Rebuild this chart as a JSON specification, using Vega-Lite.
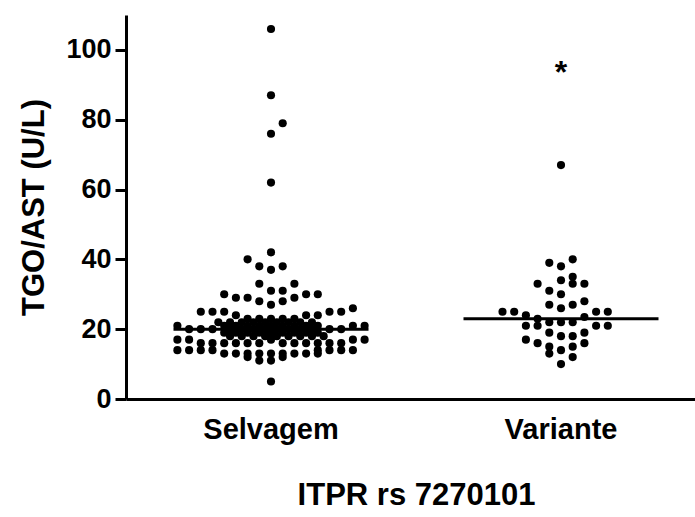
{
  "$schema": "https://vega.github.io/schema/vega-lite/v6.json",
  "width": 569,
  "height": 384,
  "autosize": {"type": "none"},
  "padding": {"left": 126, "top": 15, "right": 0, "bottom": 118},
  "background": "white",
  "config": {"view": {"stroke": null}, "font": "Liberation Sans"},
  "datasets": {
    "pts": [
      {"g":"Selvagem","v":106,"c":0},{"g":"Selvagem","v":87,"c":0},{"g":"Selvagem","v":79,"c":1},{"g":"Selvagem","v":76,"c":0},{"g":"Selvagem","v":62,"c":0},
      {"g":"Selvagem","v":42,"c":0},{"g":"Selvagem","v":40,"c":-2},{"g":"Selvagem","v":38,"c":-1},{"g":"Selvagem","v":38,"c":1},{"g":"Selvagem","v":37,"c":0},
      {"g":"Selvagem","v":33,"c":-1},{"g":"Selvagem","v":33,"c":2},{"g":"Selvagem","v":31,"c":0},{"g":"Selvagem","v":31,"c":1},
      {"g":"Selvagem","v":30,"c":-4},{"g":"Selvagem","v":30,"c":3},{"g":"Selvagem","v":30,"c":4},
      {"g":"Selvagem","v":29,"c":-3},{"g":"Selvagem","v":29,"c":-2},{"g":"Selvagem","v":29,"c":2},
      {"g":"Selvagem","v":28,"c":-1},{"g":"Selvagem","v":28,"c":1},{"g":"Selvagem","v":27,"c":0},{"g":"Selvagem","v":26,"c":7},
      {"g":"Selvagem","v":25,"c":-6},{"g":"Selvagem","v":25,"c":-5},{"g":"Selvagem","v":25,"c":-4},{"g":"Selvagem","v":25,"c":5},{"g":"Selvagem","v":25,"c":6},
      {"g":"Selvagem","v":24,"c":-3},{"g":"Selvagem","v":24,"c":3},{"g":"Selvagem","v":24,"c":4},
      {"g":"Selvagem","v":23,"c":-2},{"g":"Selvagem","v":23,"c":-1},{"g":"Selvagem","v":23,"c":0},{"g":"Selvagem","v":23,"c":1},{"g":"Selvagem","v":23,"c":2},
      {"g":"Selvagem","v":22,"c":-4.5},{"g":"Selvagem","v":22,"c":-3.5},{"g":"Selvagem","v":22,"c":-2.5},{"g":"Selvagem","v":22,"c":-1.5},{"g":"Selvagem","v":22,"c":-0.5},{"g":"Selvagem","v":22,"c":0.5},{"g":"Selvagem","v":22,"c":1.5},{"g":"Selvagem","v":22,"c":2.5},{"g":"Selvagem","v":22,"c":3.5},
      {"g":"Selvagem","v":21,"c":-8},{"g":"Selvagem","v":21,"c":-4},{"g":"Selvagem","v":21,"c":-3},{"g":"Selvagem","v":21,"c":-2},{"g":"Selvagem","v":21,"c":-1},{"g":"Selvagem","v":21,"c":0},{"g":"Selvagem","v":21,"c":1},{"g":"Selvagem","v":21,"c":2},{"g":"Selvagem","v":21,"c":3},{"g":"Selvagem","v":21,"c":4},{"g":"Selvagem","v":21,"c":7},{"g":"Selvagem","v":21,"c":8},
      {"g":"Selvagem","v":20,"c":-7},{"g":"Selvagem","v":20,"c":-6},{"g":"Selvagem","v":20,"c":-5},{"g":"Selvagem","v":20,"c":-3.5},{"g":"Selvagem","v":20,"c":-2.5},{"g":"Selvagem","v":20,"c":-1.5},{"g":"Selvagem","v":20,"c":-0.5},{"g":"Selvagem","v":20,"c":0.5},{"g":"Selvagem","v":20,"c":1.5},{"g":"Selvagem","v":20,"c":2.5},{"g":"Selvagem","v":20,"c":3.5},{"g":"Selvagem","v":20,"c":5},{"g":"Selvagem","v":20,"c":6},
      {"g":"Selvagem","v":19,"c":-4},{"g":"Selvagem","v":19,"c":-3},{"g":"Selvagem","v":19,"c":-2},{"g":"Selvagem","v":19,"c":-1},{"g":"Selvagem","v":19,"c":0},{"g":"Selvagem","v":19,"c":1},{"g":"Selvagem","v":19,"c":2},{"g":"Selvagem","v":19,"c":3},{"g":"Selvagem","v":19,"c":4},
      {"g":"Selvagem","v":18,"c":-3.5},{"g":"Selvagem","v":18,"c":-2.5},{"g":"Selvagem","v":18,"c":-1.5},{"g":"Selvagem","v":18,"c":-0.5},{"g":"Selvagem","v":18,"c":0.5},{"g":"Selvagem","v":18,"c":1.5},{"g":"Selvagem","v":18,"c":2.5},{"g":"Selvagem","v":18,"c":3.5},{"g":"Selvagem","v":18,"c":4.5},
      {"g":"Selvagem","v":17,"c":-8},{"g":"Selvagem","v":17,"c":-7},{"g":"Selvagem","v":17,"c":0},{"g":"Selvagem","v":17,"c":7},{"g":"Selvagem","v":17,"c":8},
      {"g":"Selvagem","v":16,"c":-6},{"g":"Selvagem","v":16,"c":-5},{"g":"Selvagem","v":16,"c":-4},{"g":"Selvagem","v":16,"c":-3},{"g":"Selvagem","v":16,"c":-2},{"g":"Selvagem","v":16,"c":-1},{"g":"Selvagem","v":16,"c":1},{"g":"Selvagem","v":16,"c":2},{"g":"Selvagem","v":16,"c":3},{"g":"Selvagem","v":16,"c":4},{"g":"Selvagem","v":16,"c":5},{"g":"Selvagem","v":16,"c":6},
      {"g":"Selvagem","v":14,"c":-8},{"g":"Selvagem","v":14,"c":-7},{"g":"Selvagem","v":14,"c":-6},{"g":"Selvagem","v":14,"c":-5},{"g":"Selvagem","v":14,"c":4},{"g":"Selvagem","v":14,"c":5},{"g":"Selvagem","v":14,"c":6},{"g":"Selvagem","v":14,"c":7},
      {"g":"Selvagem","v":13,"c":-4},{"g":"Selvagem","v":13,"c":-3},{"g":"Selvagem","v":13,"c":-2},{"g":"Selvagem","v":13,"c":-1},{"g":"Selvagem","v":13,"c":0},{"g":"Selvagem","v":13,"c":1},{"g":"Selvagem","v":13,"c":2},{"g":"Selvagem","v":13,"c":3},{"g":"Selvagem","v":13,"c":4},
      {"g":"Selvagem","v":12,"c":-2},{"g":"Selvagem","v":12,"c":1},{"g":"Selvagem","v":11,"c":-1},{"g":"Selvagem","v":11,"c":0},{"g":"Selvagem","v":5,"c":0},
      {"g":"Variante","v":67,"c":0},{"g":"Variante","v":40,"c":1},{"g":"Variante","v":39,"c":-1},{"g":"Variante","v":38,"c":0},{"g":"Variante","v":35,"c":1},{"g":"Variante","v":34,"c":0},
      {"g":"Variante","v":33,"c":-2},{"g":"Variante","v":33,"c":1},{"g":"Variante","v":33,"c":2},{"g":"Variante","v":31,"c":-1},{"g":"Variante","v":30,"c":0},{"g":"Variante","v":28,"c":2},
      {"g":"Variante","v":27,"c":-1},{"g":"Variante","v":27,"c":1},{"g":"Variante","v":26,"c":0},
      {"g":"Variante","v":25,"c":-5},{"g":"Variante","v":25,"c":-4},{"g":"Variante","v":25,"c":3},{"g":"Variante","v":25,"c":4},
      {"g":"Variante","v":24,"c":-3},{"g":"Variante","v":23,"c":-2},{"g":"Variante","v":23.5,"c":2},
      {"g":"Variante","v":22,"c":-1},{"g":"Variante","v":22,"c":0},{"g":"Variante","v":22,"c":1},
      {"g":"Variante","v":21,"c":-3},{"g":"Variante","v":21,"c":-2},{"g":"Variante","v":21,"c":3},{"g":"Variante","v":21,"c":4},
      {"g":"Variante","v":19,"c":-1},{"g":"Variante","v":19,"c":2},{"g":"Variante","v":18,"c":0},{"g":"Variante","v":18,"c":1},
      {"g":"Variante","v":17,"c":-3},{"g":"Variante","v":16,"c":-2},{"g":"Variante","v":16,"c":2},
      {"g":"Variante","v":15,"c":-1},{"g":"Variante","v":15,"c":1},{"g":"Variante","v":14,"c":0},{"g":"Variante","v":13,"c":-1},{"g":"Variante","v":12,"c":1},{"g":"Variante","v":10,"c":0}
    ],
    "med": [{"g":"Selvagem","v":20},{"g":"Variante","v":23}],
    "ann": [{"g":"Variante","v":95,"t":"*"}]
  },
  "layer": [
    {
      "data": {"name": "pts"},
      "mark": {"type": "point", "filled": true, "shape": "circle", "size": 66, "color": "black", "opacity": 1, "strokeWidth": 0},
      "encoding": {
        "x": {
          "field": "g", "type": "nominal",
          "scale": {"domain": ["Selvagem", "Variante"], "range": [0, 580], "paddingInner": 0, "paddingOuter": 0},
          "axis": {
            "title": "ITPR rs 7270101", "titleFontSize": 31, "titleFontWeight": "bold", "titleColor": "black", "titlePadding": 36,
            "labelAngle": 0, "labelFontSize": 29, "labelFontWeight": "bold", "labelColor": "black", "labelPadding": 16,
            "ticks": false, "domainWidth": 3, "domainColor": "black", "grid": false
          }
        },
        "xOffset": {"field": "c", "type": "quantitative", "scale": {"domain": [-12.393, 12.393]}},
        "y": {
          "field": "v", "type": "quantitative",
          "scale": {"domain": [0, 110], "nice": false, "zero": true},
          "axis": {
            "title": "TGO/AST (U/L)", "titleFontSize": 31, "titleFontWeight": "bold", "titleColor": "black", "titlePadding": 15,
            "values": [0, 20, 40, 60, 80, 100], "labelFontSize": 27, "labelFontWeight": "bold", "labelColor": "black", "labelPadding": 4,
            "tickSize": 11, "tickWidth": 3, "tickColor": "black", "domainWidth": 3, "domainColor": "black", "grid": false
          }
        }
      }
    },
    {
      "data": {"name": "med"},
      "mark": {"type": "tick", "color": "black", "thickness": 3, "size": 195, "opacity": 1},
      "encoding": {
        "x": {"field": "g", "type": "nominal"},
        "y": {"field": "v", "type": "quantitative"}
      }
    },
    {
      "data": {"name": "ann"},
      "mark": {"type": "text", "fontSize": 32, "fontWeight": "bold", "baseline": "middle", "dy": 6, "color": "black"},
      "encoding": {
        "x": {"field": "g", "type": "nominal"},
        "y": {"field": "v", "type": "quantitative"},
        "text": {"field": "t"}
      }
    }
  ]
}
